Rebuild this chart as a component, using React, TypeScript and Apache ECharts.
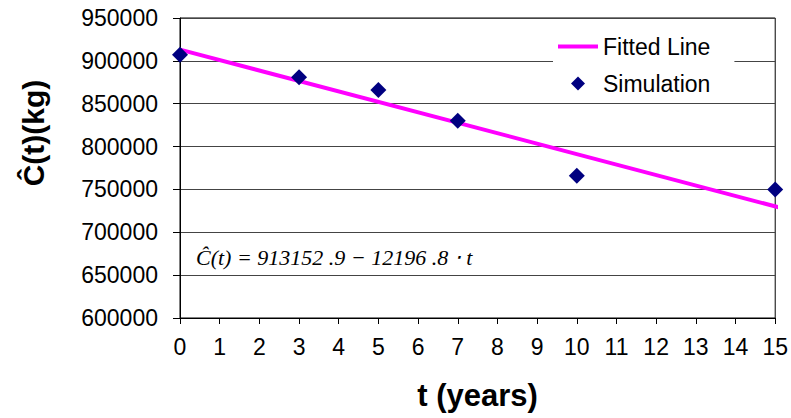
import React, { useEffect, useRef } from "react";
import * as echarts from "echarts";

const simT = [0, 3, 5, 7, 10, 15];
const simC = [907000, 881000, 866000, 830000, 766000, 750000];
const fitT = [0, 15.2];
const fitC = [913152.9, 727757];
const equationText = "Ĉ(t) = 913152 .9 − 12196 .8 ⋅ t";

export default function App() {
  const ref = useRef<HTMLDivElement>(null);
  useEffect(() => {
    if (!ref.current) return;
    const chart = echarts.init(ref.current, null, { renderer: "svg" });
    const font = "'Liberation Sans', Arial, sans-serif";
    chart.setOption({
      animation: false,
      backgroundColor: "#fff",
      grid: { left: 180, right: 9, top: 18, bottom: 100, show: true, borderColor: "#000", borderWidth: 1, backgroundColor: "transparent" },
      legend: {
        orient: "vertical",
        left: 553,
        top: 31,
        padding: [4, 24, 4, 5],
        backgroundColor: "#fff",
        itemWidth: 40,
        itemHeight: 14,
        itemGap: 14,
        textStyle: { fontFamily: font, fontSize: 23, color: "#000" },
        data: [
          { name: "Fitted Line", icon: "path://M0,0 L40,0 L40,4 L0,4 Z", itemStyle: { color: "#FF00FF" } },
          { name: "Simulation", icon: "path://M7,0 L14,7 L7,14 L0,7 Z", itemStyle: { color: "#000080" } },
        ],
      },
      xAxis: {
        type: "value",
        min: 0,
        max: 15,
        interval: 1,
        name: "t (years)",
        nameLocation: "middle",
        nameGap: 62,
        nameTextStyle: { fontFamily: font, fontSize: 31, fontWeight: "bold", color: "#000" },
        axisLine: { lineStyle: { color: "#000", width: 1 } },
        axisTick: { show: true, length: 6, lineStyle: { color: "#000" } },
        axisLabel: { margin: 17, fontFamily: font, fontSize: 23, color: "#000" },
        splitLine: { show: false },
      },
      yAxis: {
        type: "value",
        min: 600000,
        max: 950000,
        interval: 50000,
        axisLine: { show: true, lineStyle: { color: "#000", width: 1 } },
        axisTick: { show: true, length: 7, lineStyle: { color: "#000" } },
        axisLabel: { margin: 22, fontFamily: font, fontSize: 23, color: "#000", formatter: (v: number) => String(v) },
        splitLine: { show: true, lineStyle: { color: "#444", width: 1 } },
      },
      graphic: [
        {
          type: "text",
          x: 33,
          y: 133,
          rotation: Math.PI / 2,
          style: {
            text: "Ĉ(t)(kg)",
            fontFamily: font,
            fontSize: 30,
            fontWeight: "bold",
            fill: "#000",
            align: "center",
            verticalAlign: "middle",
          },
        },
        {
          type: "text",
          x: 196,
          y: 257,
          style: {
            text: equationText,
            fontFamily: "'Liberation Serif', 'Times New Roman', serif",
            fontStyle: "italic",
            fontSize: 22,
            fill: "#000",
            align: "left",
            verticalAlign: "middle",
          },
        },
      ],
      series: [
        {
          name: "Fitted Line",
          type: "line",
          data: fitT.map((t, i) => [t, fitC[i]]),
          symbol: "none",
          clip: false,
          lineStyle: { color: "#FF00FF", width: 4 },
          itemStyle: { color: "#FF00FF" },
          z: 2,
        },
        {
          name: "Simulation",
          type: "scatter",
          data: simT.map((t, i) => [t, simC[i]]),
          symbol: "diamond",
          symbolSize: 16,
          clip: false,
          itemStyle: { color: "#000080", opacity: 1 },
          z: 3,
        },
      ],
    });
    return () => chart.dispose();
  }, []);
  return <div ref={ref} style={{ width: 791, height: 418, position: "absolute", left: 0, top: 0 }} />;
}
